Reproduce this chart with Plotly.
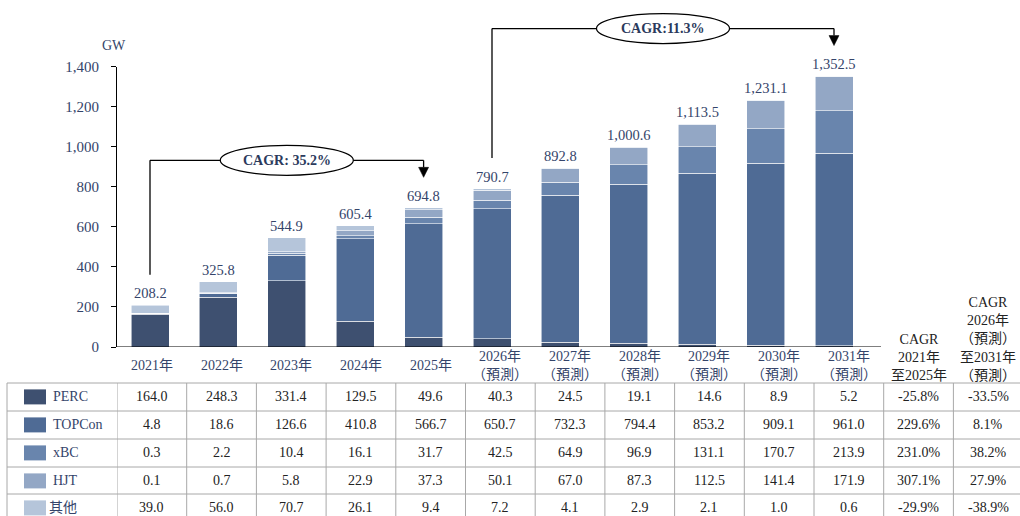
import plotly.graph_objects as go

# ---------------- data ----------------
years = ["2021年", "2022年", "2023年", "2024年", "2025年", "2026年", "2027年",
         "2028年", "2029年", "2030年", "2031年"]
year_labels = ["2021年", "2022年", "2023年", "2024年", "2025年",
               "2026年<br>（預測）", "2027年<br>（預測）", "2028年<br>（預測）",
               "2029年<br>（預測）", "2030年<br>（預測）", "2031年<br>（預測）"]
series_names = ["PERC", "TOPCon", "xBC", "HJT", "其他"]
perc = [164.0, 248.3, 331.4, 129.5, 49.6, 40.3, 24.5, 19.1, 14.6, 8.9, 5.2]
topcon = [4.8, 18.6, 126.6, 410.8, 566.7, 650.7, 732.3, 794.4, 853.2, 909.1, 961.0]
xbc = [0.3, 2.2, 10.4, 16.1, 31.7, 42.5, 64.9, 96.9, 131.1, 170.7, 213.9]
hjt = [0.1, 0.7, 5.8, 22.9, 37.3, 50.1, 67.0, 87.3, 112.5, 141.4, 171.9]
other = [39.0, 56.0, 70.7, 26.1, 9.4, 7.2, 4.1, 2.9, 2.1, 1.0, 0.6]
totals = [208.2, 325.8, 544.9, 605.4, 694.8, 790.7, 892.8, 1000.6, 1113.5, 1231.1, 1352.5]
cagr_hist = ["-25.8%", "229.6%", "231.0%", "307.1%", "-29.9%"]
cagr_fore = ["-33.5%", "8.1%", "38.2%", "27.9%", "-38.9%"]
cagr_hist_header = "CAGR<br>2021年<br>至2025年"
cagr_fore_header = "CAGR<br>2026年<br>（預測）<br>至2031年<br>（預測）"
cagr_brackets = [("2021年", "2025年", "CAGR: 35.2%"), ("2026年", "2031年", "CAGR:11.3%")]
y_ticks = [0, 200, 400, 600, 800, 1000, 1200, 1400]

series_values = [perc, topcon, xbc, hjt, other]
colors = ["#3e5070", "#4f6b95", "#6985ad", "#93a7c5", "#b5c5da"]

# ---------------- layout geometry ----------------
W, H = 1020, 516
FONT = "Liberation Serif, Times New Roman, Noto Sans CJK TC, serif"
NAVY = "#34446a"
DARK = "#222222"
GRID = "#a8a8a8"
Y0_PX, Y1_PX = 347, 66.5
YMAX = 1400
yd0, yd1 = 1 - Y0_PX / H, 1 - Y1_PX / H
x_left_px = 117
bar_slot = 68.4
bar_c0 = 150
table_slot = 69.7


def py(px):
    return 1 - px / H


def ypaper(v):
    return yd0 + v / YMAX * (yd1 - yd0)


fig = go.Figure()
for name, vals, col in zip(series_names, series_values, colors):
    fig.add_trace(go.Bar(x=years, y=vals, name=name, marker_color=col,
                         marker_line=dict(color="rgba(255,255,255,0.7)", width=0.8),
                         showlegend=False, hoverinfo="skip"))

xr0 = -(bar_c0 - x_left_px) / bar_slot
xr1 = xr0 + (W - x_left_px) / bar_slot

shapes = []
annotations = []

# x baseline
shapes.append(dict(type="line", xref="x", yref="y", x0=xr0, x1=xr0 + (881 - x_left_px) / bar_slot,
                   y0=0, y1=0, line=dict(color="black", width=1.2)))

# value labels
for i, t in enumerate(totals):
    annotations.append(dict(xref="x", yref="y", x=i, y=t, text=f"{t:,.1f}", showarrow=False,
                            yanchor="bottom", yshift=2,
                            font=dict(family=FONT, size=14.5, color=NAVY)))

# CAGR brackets
for a, b, lab in cagr_brackets:
    i0, i1 = years.index(a), years.index(b)
    level = ypaper(max(totals[i0:i1 + 1]) + 237)
    ybot0 = ypaper(totals[i0] + 152)
    ytip = ypaper(totals[i1] + 152)
    lw = dict(color="black", width=1.3)
    shapes.append(dict(type="line", xref="x", yref="paper", x0=i0, x1=i0, y0=ybot0, y1=level, line=lw))
    shapes.append(dict(type="line", xref="x", yref="paper", x0=i0, x1=i1, y0=level, y1=level, line=lw))
    head_h = 10 / H
    shapes.append(dict(type="line", xref="x", yref="paper", x0=i1, x1=i1, y0=level, y1=ytip + head_h, line=lw))
    hw = 5 / bar_slot
    shapes.append(dict(type="path", xref="x", yref="paper",
                       path=f"M {i1 - hw},{ytip + head_h} L {i1 + hw},{ytip + head_h} L {i1},{ytip} Z",
                       fillcolor="black", line=dict(color="black", width=0.5)))
    xm = (i0 + i1) / 2
    ew = 66.5 / bar_slot
    eh = 15 / H
    shapes.append(dict(type="circle", xref="x", yref="paper", x0=xm - ew, x1=xm + ew,
                       y0=level - eh, y1=level + eh, fillcolor="white", line=dict(color="black", width=1.2)))
    annotations.append(dict(xref="x", yref="paper", x=xm, y=level, text=f"<b>{lab}</b>",
                            xanchor="center", yanchor="middle",
                            showarrow=False, font=dict(family=FONT, size=14, color="#2b3a5c")))

# GW unit
annotations.append(dict(xref="paper", yref="paper", x=114 / W, y=py(45), text="GW", showarrow=False,
                        xanchor="center", yanchor="middle",
                        font=dict(family=FONT, size=14, color=NAVY)))

# ---------------- table ----------------
row_lines_px = [383, 411, 439, 467, 494]
row_h = 27.8
row_centers_px = [l + row_h / 2 for l in row_lines_px]
for l in row_lines_px:
    shapes.append(dict(type="line", xref="paper", yref="paper", x0=7 / W, x1=1, y0=py(l), y1=py(l),
                       line=dict(color=GRID, width=1)))
shapes.append(dict(type="line", xref="paper", yref="paper", x0=7 / W, x1=7 / W, y0=py(383), y1=0,
                   line=dict(color=GRID, width=1)))
for k in range(len(years) + 2):
    shapes.append(dict(type="line", xref="x2", yref="paper", x0=k - 0.5, x1=k - 0.5, y0=py(383), y1=0,
                       line=dict(color=GRID, width=1)))

# year header
for i, lab in enumerate(year_labels):
    two = "<br>" in lab
    annotations.append(dict(xref="x2", yref="paper", x=i, y=py(384), xanchor="center", yanchor="bottom",
                            text=lab, showarrow=False, yshift=0 if two else 9,
                            font=dict(family=FONT, size=14, color=NAVY)))
annotations.append(dict(xref="x2", yref="paper", x=len(years), y=py(385), xanchor="center",
                        yanchor="bottom", text=cagr_hist_header, showarrow=False,
                        font=dict(family=FONT, size=14, color=DARK)))
annotations.append(dict(xref="x2", yref="paper", x=len(years) + 1, y=py(385), xanchor="center",
                        yanchor="bottom", text=cagr_fore_header, showarrow=False,
                        font=dict(family=FONT, size=14, color=DARK)))

# legend column + values
for r, (name, vals, col) in enumerate(zip(series_names, series_values, colors)):
    yc = row_centers_px[r]
    shapes.append(dict(type="rect", xref="paper", yref="paper", x0=24 / W, x1=46 / W,
                       y0=py(yc + 7.5), y1=py(yc - 7.5), fillcolor=col, line=dict(width=0)))
    annotations.append(dict(xref="paper", yref="paper", x=51 / W if name != "其他" else 47 / W,
                            y=py(yc), xanchor="left", yanchor="middle", text=name, showarrow=False,
                            font=dict(family=FONT, size=14, color=NAVY)))
    for i, v in enumerate(vals):
        annotations.append(dict(xref="x2", yref="paper", x=i, y=py(yc), text=f"{v:.1f}", showarrow=False,
                                xanchor="center", yanchor="middle",
                                font=dict(family=FONT, size=14, color=DARK)))
    annotations.append(dict(xref="x2", yref="paper", x=len(years), y=py(yc), text=cagr_hist[r],
                            xanchor="center", yanchor="middle",
                            showarrow=False, font=dict(family=FONT, size=14, color=DARK)))
    annotations.append(dict(xref="x2", yref="paper", x=len(years) + 1, y=py(yc), text=cagr_fore[r],
                            xanchor="center", yanchor="middle",
                            showarrow=False, font=dict(family=FONT, size=14, color=DARK)))

fig.update_layout(
    width=W, height=H, margin=dict(l=0, r=0, t=0, b=0, pad=0, autoexpand=False),
    paper_bgcolor="white", plot_bgcolor="white",
    barmode="stack", bargap=1 - 38 / bar_slot,
    font=dict(family=FONT, size=14, color=NAVY),
    xaxis=dict(domain=[x_left_px / W, 1], range=[xr0, xr1], type="category", automargin=False,
               showticklabels=False, showline=False, ticks="", showgrid=False, zeroline=False,
               fixedrange=True),
    xaxis2=dict(overlaying="x", anchor="y", domain=[x_left_px / W, 1], automargin=False,
                range=[-0.5, -0.5 + (W - x_left_px) / table_slot], visible=False, fixedrange=True),
    yaxis=dict(domain=[yd0, yd1], range=[0, YMAX], tickvals=y_ticks, tickformat=",d", automargin=False,
               showline=True, linecolor="black", linewidth=1.2, ticks="outside", ticklen=5,
               tickcolor="black", showgrid=False, zeroline=False, ticklabelstandoff=9,
               tickfont=dict(family=FONT, size=15, color=NAVY)),
    shapes=shapes, annotations=annotations,
)

fig.write_html("out.html")
